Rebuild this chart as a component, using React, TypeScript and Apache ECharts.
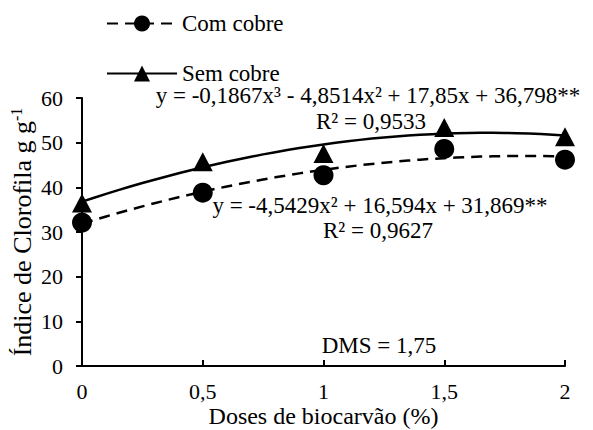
import React, { useEffect, useRef } from "react";
import * as echarts from "echarts";

// Biochar doses (%) on the x axis
const doses = [0, 0.5, 1, 1.5, 2];
// Chlorophyll index means
const comCobre = [32.1, 38.8, 42.7, 48.6, 46.2];
const semCobre = [36.5, 45.7, 47.6, 53.4, 51.3];

// Regression coefficients, constant term first
const coefCom = [31.869, 16.594, -4.5429];
const coefSem = [36.798, 17.85, -4.8514, -0.1867];

const xTicks = ["0", "0,5", "1", "1,5", "2"];

const eqSem = "y = -0,1867x³ - 4,8514x² + 17,85x + 36,798**";
const r2Sem = "R² = 0,9533";
const eqCom = "y = -4,5429x² + 16,594x + 31,869**";
const r2Com = "R² = 0,9627";
const dms = "DMS = 1,75";

const FONT = "'Liberation Serif', 'Times New Roman', serif";

function polyCurve(coef: number[]): number[][] {
  const pts: number[][] = [];
  const steps = 40;
  for (let i = 0; i <= steps; i++) {
    const x = (2 * i) / steps;
    let y = 0;
    for (let k = 0; k < coef.length; k++) y += coef[k] * Math.pow(x, k);
    pts.push([x, y]);
  }
  return pts;
}

export default function App() {
  const ref = useRef<HTMLDivElement>(null);

  useEffect(() => {
    if (!ref.current) return;
    const chart = echarts.init(ref.current, undefined, { renderer: "svg" });
    const txt = (text: string, x: number, y: number) => ({
      type: "text",
      x,
      y,
      style: {
        text,
        font: `23px ${FONT}`,
        fill: "#000",
        align: "center",
        verticalAlign: "middle",
      },
    });
    chart.setOption({
      animation: false,
      backgroundColor: "#fff",
      textStyle: { fontFamily: FONT, color: "#000" },
      grid: { left: 82, right: 28, top: 98, bottom: 64, outerBoundsMode: "none" },
      legend: {
        orient: "vertical",
        left: 106,
        top: 12,
        padding: 0,
        itemGap: 27,
        itemWidth: 70,
        itemHeight: 20,
        textStyle: { fontFamily: FONT, fontSize: 23, color: "#000" },
        data: ["Com cobre", "Sem cobre"],
      },
      xAxis: {
        type: "value",
        min: 0,
        max: 2,
        interval: 0.5,
        name: "Doses de biocarvão (%)",
        nameLocation: "middle",
        nameMoveOverlap: false,
        nameGap: 38,
        nameTextStyle: { fontFamily: FONT, fontSize: 24, lineHeight: 24, color: "#000" },
        axisLine: { lineStyle: { color: "#000", width: 2 } },
        axisTick: { inside: true, length: 6, lineStyle: { color: "#000", width: 2 } },
        splitLine: { show: false },
        axisLabel: {
          fontFamily: FONT,
          fontSize: 22,
          color: "#000",
          margin: 14,
          formatter: (v: number) => xTicks[Math.round(v / 0.5)],
        },
      },
      yAxis: {
        type: "value",
        min: 0,
        max: 60,
        interval: 10,
        name: "{a|Índice de Clorofila g g}{s|-1}",
        nameLocation: "middle",
        nameMoveOverlap: false,
        nameGap: 46,
        nameTextStyle: {
          fontFamily: FONT,
          color: "#000",
          rich: {
            a: { fontFamily: FONT, fontSize: 26, color: "#000", lineHeight: 28 },
            s: {
              fontFamily: FONT,
              fontSize: 16,
              color: "#000",
              lineHeight: 28,
              verticalAlign: "top",
              padding: [0, 0, 10, 0],
            },
          },
        },
        axisLine: { show: true, lineStyle: { color: "#000", width: 2 } },
        axisTick: { show: true, inside: false, length: 6, lineStyle: { color: "#000", width: 2 } },
        splitLine: { show: false },
        axisLabel: { fontFamily: FONT, fontSize: 22, color: "#000", margin: 19 },
      },
      series: [
        {
          name: "Com cobre",
          type: "line",
          data: polyCurve(coefCom),
          showSymbol: false,
          symbol: "circle",
          smooth: false,
          lineStyle: { color: "#000", width: 2.5, type: [11, 7] },
          itemStyle: { color: "#000" },
          z: 2,
        },
        {
          name: "Sem cobre",
          type: "line",
          data: polyCurve(coefSem),
          showSymbol: false,
          symbol: "triangle",
          smooth: false,
          lineStyle: { color: "#000", width: 2.5, type: "solid" },
          itemStyle: { color: "#000" },
          z: 2,
        },
        {
          name: "Com cobre pts",
          type: "scatter",
          data: doses.map((d, i) => [d, comCobre[i]]),
          symbol: "circle",
          symbolSize: 20,
          itemStyle: { color: "#000", opacity: 1 },
          z: 3,
        },
        {
          name: "Sem cobre pts",
          type: "scatter",
          data: doses.map((d, i) => [d, semCobre[i]]),
          symbol: "triangle",
          symbolSize: [20, 19],
          itemStyle: { color: "#000", opacity: 1 },
          z: 3,
        },
      ],
      graphic: [
        txt(eqSem, 368, 95),
        txt(r2Sem, 371, 121),
        txt(eqCom, 380, 205),
        txt(r2Com, 378, 230),
        txt(dms, 379, 345),
      ],
    });
    return () => chart.dispose();
  }, []);

  return (
    <div
      ref={ref}
      style={{ position: "absolute", left: 0, top: 0, width: 593, height: 430 }}
    />
  );
}
